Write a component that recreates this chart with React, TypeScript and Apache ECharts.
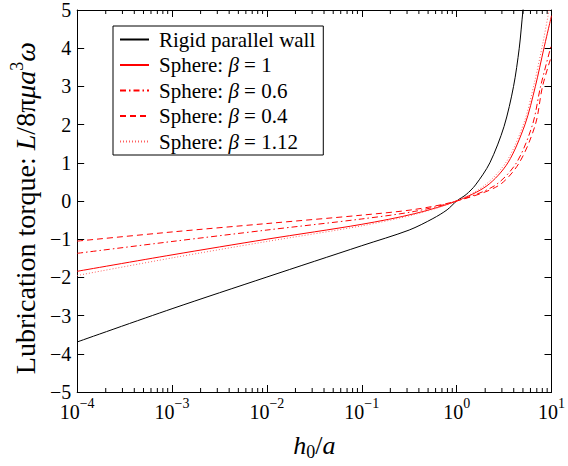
import React, { useEffect, useRef } from "react";
import * as echarts from "echarts";

// h0/a values and torque values
const H_WALL = [1e-4, 1e-3, 1e-2, 1e-1, 0.316, 0.562, 0.794, 1, 1.26, 1.58, 2.24, 3.16, 3.98, 4.57, 5.01, 5.37];
const Y_WALL = [-3.69, -2.82, -1.99, -1.17, -0.76, -0.46, -0.23, 0, 0.17, 0.42, 1.0, 1.95, 3.0, 4.0, 5.0, 5.6];

const H_B1 = [1e-4, 1e-3, 1e-2, 1e-1, 0.363, 1, 2.09, 3.47, 5.25, 6.76, 8.32, 10];
const Y_B1 = [-1.84, -1.41, -1.0, -0.61, -0.33, 0, 0.4, 1, 2, 3, 4, 4.85];

const H_B06 = [1e-4, 1e-3, 1e-2, 1e-1, 0.363, 1, 2.51, 4.27, 6.31, 7.67, 10];
const Y_B06 = [-1.37, -1.06, -0.76, -0.47, -0.27, 0, 0.4, 1, 2, 3, 4.1];

const H_B04 = [1e-4, 1e-3, 1e-2, 1e-1, 0.363, 1, 2.75, 4.57, 6.76, 8.04, 10];
const Y_B04 = [-1.05, -0.81, -0.59, -0.37, -0.22, 0, 0.4, 1, 2, 3, 3.8];

const H_B112 = [1e-4, 1e-3, 1e-2, 1e-1, 0.363, 1, 2.0, 3.39, 5.13, 6.61, 8.13, 9.6];
const Y_B112 = [-1.95, -1.49, -1.06, -0.65, -0.35, 0, 0.42, 1.05, 2.05, 3.1, 4.15, 5.1];

const MINOR_TICKS = [
  2e-4, 3e-4, 4e-4, 5e-4, 6e-4, 7e-4, 8e-4, 9e-4,
  2e-3, 3e-3, 4e-3, 5e-3, 6e-3, 7e-3, 8e-3, 9e-3,
  2e-2, 3e-2, 4e-2, 5e-2, 6e-2, 7e-2, 8e-2, 9e-2,
  2e-1, 3e-1, 4e-1, 5e-1, 6e-1, 7e-1, 8e-1, 9e-1,
  2, 3, 4, 5, 6, 7, 8, 9,
];

const SERIES_NAMES = [
  "Rigid parallel wall",
  "Sphere: beta = 1",
  "Sphere: beta = 0.6",
  "Sphere: beta = 0.4",
  "Sphere: beta = 1.12",
];
const LEGEND_RICH_TEXT: Record<string, string> = {
  "Rigid parallel wall": "{r0|Rigid parallel wall}",
  "Sphere: beta = 1": "{r0|Sphere: }{i|β}{r| = 1}",
  "Sphere: beta = 0.6": "{r0|Sphere: }{i|β}{r| = 0.6}",
  "Sphere: beta = 0.4": "{r0|Sphere: }{i|β}{r| = 0.4}",
  "Sphere: beta = 1.12": "{r0|Sphere: }{i|β}{r| = 1.12}",
};

const FONT = "Liberation Serif";

const zip = (xs: number[], ys: number[]) => xs.map((x, i) => [x, ys[i]]);

export default function App() {
  const ref = useRef<HTMLDivElement>(null);
  useEffect(() => {
    if (!ref.current) return;
    const chart = echarts.init(ref.current, null, { renderer: "svg" });
    const lineBase = { type: "line", showSymbol: false, symbol: "none", smooth: 0.3, xAxisIndex: 0, yAxisIndex: 0 };
    const LF = 21;
    const TF = 26;
    const YF = 28;
    chart.setOption({
      animation: false,
      backgroundColor: "#fff",
      textStyle: { fontFamily: FONT },
      grid: { left: 72, right: 12, top: 8, bottom: 70, containLabel: false },
      legend: {
        data: SERIES_NAMES,
        orient: "vertical",
        left: 113,
        top: 26,
        backgroundColor: "#fff",
        borderColor: "#000",
        borderWidth: 1,
        borderRadius: 0,
        padding: [3, 8, 3, 6],
        itemWidth: 29,
        itemHeight: 12,
        itemGap: 4.5,
        itemStyle: { opacity: 0 },
        formatter: (name: string) => LEGEND_RICH_TEXT[name] || name,
        textStyle: {
          fontFamily: FONT,
          fontSize: LF,
          lineHeight: 21,
          color: "#000",
          rich: {
            r0: { fontFamily: FONT, fontSize: LF, lineHeight: 21, color: "#000", padding: [0, 0, 0, 5] },
            r: { fontFamily: FONT, fontSize: LF, lineHeight: 21, color: "#000" },
            i: { fontFamily: FONT, fontSize: LF, lineHeight: 21, fontStyle: "italic", color: "#000" },
          },
        },
      },
      xAxis: [
        {
          type: "log",
          logBase: 10,
          min: 1e-4,
          max: 10,
          position: "bottom",
          axisLine: { onZero: false, lineStyle: { color: "#000", width: 1 } },
          axisTick: { inside: true, length: 7, lineStyle: { color: "#000" } },
          splitLine: { show: false },
          axisLabel: {
            margin: 4,
            formatter: (v: number) => {
              const e = Math.round(Math.log10(v));
              return "{b|10}{s|" + (e < 0 ? "−" + Math.abs(e) : String(e)) + "}";
            },
            rich: {
              b: { fontFamily: FONT, fontSize: 20, color: "#000", lineHeight: 26, verticalAlign: "bottom" },
              s: { fontFamily: FONT, fontSize: 14, color: "#000", lineHeight: 14, verticalAlign: "top" },
            },
          },
          name: "{i|h}{sub|0}{r|/}{i|a}",
          nameLocation: "middle",
          nameGap: 37,
          nameTextStyle: {
            rich: {
              i: { fontFamily: FONT, fontSize: TF, fontStyle: "italic", color: "#000", lineHeight: 32, verticalAlign: "middle" },
              r: { fontFamily: FONT, fontSize: TF, color: "#000", lineHeight: 32, verticalAlign: "middle" },
              sub: { fontFamily: FONT, fontSize: 18, color: "#000", lineHeight: 16, verticalAlign: "bottom" },
            },
          },
        },
        {
          type: "log",
          logBase: 10,
          min: 1e-4,
          max: 10,
          position: "top",
          axisLine: { onZero: false, lineStyle: { color: "#000", width: 1 } },
          axisTick: { inside: true, length: 7, lineStyle: { color: "#000" } },
          axisLabel: { show: false },
          splitLine: { show: false },
        },
      ],
      yAxis: [
        {
          type: "value",
          min: -5,
          max: 5,
          interval: 1,
          position: "left",
          axisLine: { show: true, onZero: false, lineStyle: { color: "#000", width: 1 } },
          axisTick: { show: true, inside: true, length: 7, lineStyle: { color: "#000" } },
          splitLine: { show: false },
          axisLabel: {
            margin: 6,
            fontFamily: FONT,
            fontSize: 20,
            color: "#000",
            formatter: (v: number) => (v < 0 ? "−" + Math.abs(v) : String(v)),
          },
          name: "{r|Lubrication torque: }{i|L}{r|/8π}{i|μa}{sup|3}{i|ω}",
          nameLocation: "middle",
          nameRotate: 90,
          nameGap: 35,
          nameTextStyle: {
            padding: [0, 14, 0, 0],
            rich: {
              r: { fontFamily: FONT, fontSize: YF, color: "#000", lineHeight: 34, verticalAlign: "middle" },
              i: { fontFamily: FONT, fontSize: YF, fontStyle: "italic", color: "#000", lineHeight: 34, verticalAlign: "middle" },
              sup: { fontFamily: FONT, fontSize: 18, color: "#000", lineHeight: 17, verticalAlign: "top" },
            },
          },
        },
        {
          type: "value",
          min: -5,
          max: 5,
          interval: 1,
          position: "right",
          axisLine: { show: true, onZero: false, lineStyle: { color: "#000", width: 1 } },
          axisTick: { show: true, inside: true, length: 7, lineStyle: { color: "#000" } },
          axisLabel: { show: false },
          splitLine: { show: false },
        },
      ],
      series: [
        {
          ...lineBase,
          name: SERIES_NAMES[0],
          data: zip(H_WALL, Y_WALL),
          lineStyle: { color: "#000", width: 1, type: "solid" },
          itemStyle: { color: "#000" },
        },
        {
          ...lineBase,
          name: SERIES_NAMES[1],
          data: zip(H_B1, Y_B1),
          lineStyle: { color: "#ff0000", width: 1, type: "solid" },
          itemStyle: { color: "#ff0000" },
        },
        {
          ...lineBase,
          name: SERIES_NAMES[2],
          data: zip(H_B06, Y_B06),
          lineStyle: { color: "#ff0000", width: 1, type: [6, 3, 1.5, 3] },
          itemStyle: { color: "#ff0000" },
        },
        {
          ...lineBase,
          name: SERIES_NAMES[3],
          data: zip(H_B04, Y_B04),
          lineStyle: { color: "#ff0000", width: 1, type: [6, 4] },
          itemStyle: { color: "#ff0000" },
        },
        {
          ...lineBase,
          name: SERIES_NAMES[4],
          data: zip(H_B112, Y_B112),
          lineStyle: { color: "#ff6060", width: 1, type: [1, 2] },
          itemStyle: { color: "#ff6060" },
        },
        {
          type: "custom",
          name: "minor-ticks",
          xAxisIndex: 0,
          yAxisIndex: 0,
          silent: true,
          clip: false,
          data: MINOR_TICKS.map((h) => [h, -5]),
          encode: { x: 0, y: 1 },
          renderItem: (_p: any, api: any) => {
            const h = api.value(0);
            const b = api.coord([h, -5]);
            const t = api.coord([h, 5]);
            return {
              type: "group",
              children: [
                { type: "line", shape: { x1: b[0], y1: b[1], x2: b[0], y2: b[1] - 4 }, style: { stroke: "#000", lineWidth: 1 } },
                { type: "line", shape: { x1: t[0], y1: t[1], x2: t[0], y2: t[1] + 4 }, style: { stroke: "#000", lineWidth: 1 } },
              ],
            };
          },
        },
      ],
    });
    return () => chart.dispose();
  }, []);
  return <div ref={ref} style={{ position: "absolute", left: 0, top: 0, width: 568, height: 466 }} />;
}
